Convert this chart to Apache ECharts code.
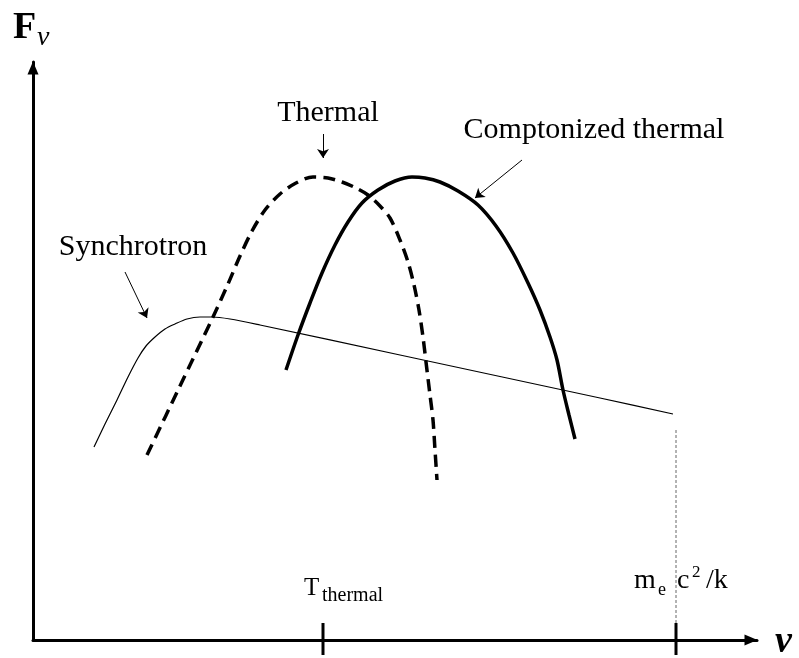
<!DOCTYPE html>
<html>
<head>
<meta charset="utf-8">
<script src="https://cdn.jsdelivr.net/npm/echarts@6/dist/echarts.min.js"></script>
<style>html,body{margin:0;padding:0;background:#fff}#c{width:799px;height:658px}</style>
</head>
<body>
<div id="c"></div>
<script>
// Curves in arbitrary units (x: frequency, y: flux)
const synchrotron = [[61,193],[72,216],[84,240],[95,263],[105,282],[113,294],[122,303],[132,311],[142,316],[154,321],[167,323],[179,323],[197,321],[227,315],[367,285],[567,242],[640,226]];
const thermal = [[114,185],[147,254],[180,323],[195,356],[207,384],[219,409],[232,430],[247,446],[263,457],[280,463],[295,462],[309,458],[323,452],[335,445],[347,434],[357,422],[367,400],[375,378],[381,355],[386,330],[390,303],[393,278],[397,245],[400,220],[402,190],[404,160]];
const comptonized = [[253,270],[265,305],[277,337],[289,367],[302,395],[315,418],[329,437],[345,450],[362,459],[379,463],[392,462],[407,458],[425,449],[445,435],[463,414],[480,387],[495,357],[507,330],[517,303],[524,280],[530,250],[536,225],[542,201]];
// Axis ticks (x units) and their labels
const tickPositions = [290, 643];
const tickLabels = ['T_thermal', 'm_e c^2 /k'];
// Annotation arrows: [from, to]
const arrows = [[[290,506],[290,482]], [[489,480],[442,442]], [[92,368],[114,322]]];
const annotationTexts = ['Thermal', 'Comptonized thermal', 'Synchrotron'];
// cutoff marker at m_e c^2 / k
const cutoffLine = [[643,210],[643,17]];

const chart = echarts.init(document.getElementById('c'), null, {renderer:'canvas'});
const serif = '"Liberation Serif", "Times New Roman", serif';
const txt = (text, x, y, size, opts) => ({
  type:'text', style:{text, x, y, font: (opts && opts.font) || (size + 'px ' + serif), fill:'#000',
    textAlign:(opts && opts.align) || 'left', textVerticalAlign:'middle'}
});
const tickSeries = tickPositions.map(t => ({
  type:'line', data:[[t,17],[t,-15]], clip:false, showSymbol:false, silent:true,
  lineStyle:{color:'#000', width:3}
}));
chart.setOption({
  animation:false,
  backgroundColor:'#fff',
  grid:{left:33, right:42, top:62, bottom:18},
  xAxis:{type:'value', min:0, max:724,
    axisLine:{onZero:false, lineStyle:{color:'#000', width:3}, symbol:['none','triangle'], symbolSize:[11,13], symbolOffset:[0,-6]},
    axisTick:{show:false}, axisLabel:{show:false}, splitLine:{show:false}},
  yAxis:{type:'value', min:0, max:578,
    axisLine:{onZero:false, lineStyle:{color:'#000', width:3}, symbol:['none','triangle'], symbolSize:[11,13], symbolOffset:[0,-6]},
    axisTick:{show:false}, axisLabel:{show:false}, splitLine:{show:false}},
  series:[
    {type:'line', data:synchrotron, smooth:0.3, showSymbol:false, lineStyle:{color:'#000', width:1.2}},
    {type:'line', data:thermal, smooth:0.3, showSymbol:false, lineStyle:{color:'#000', width:3.5, type:[12,7]}},
    {type:'line', data:comptonized, smooth:0.3, showSymbol:false, lineStyle:{color:'#000', width:3.5}},
    {type:'line', data:[], markLine:{silent:true, animation:false, symbol:['none','arrow'], symbolSize:9,
      label:{show:false}, lineStyle:{color:'#000', width:1, type:'solid'},
      data: arrows.map(a => [{coord:a[0]},{coord:a[1]}])}},
    {type:'line', data:cutoffLine, clip:false, showSymbol:false, silent:true,
      lineStyle:{color:'#666', width:1, type:[3,2]}}
  ].concat(tickSeries),
  graphic:[
    txt('F', 13, 28, 38, {font:'bold 38px ' + serif}),
    txt('ν', 37, 38, 28, {font:'italic 28px ' + serif}),
    txt('ν', 775, 642, 38, {font:'bold italic 38px ' + serif}),
    txt(annotationTexts[0], 328, 113, 30, {align:'center'}),
    txt(annotationTexts[1], 594, 130, 30, {align:'center'}),
    txt(annotationTexts[2], 133, 247, 30, {align:'center'}),
    txt('T', 304, 588, 25),
    txt('thermal', 322, 596, 20),
    txt('m', 634, 581, 28),
    txt('e', 658, 590, 18),
    txt('c', 677, 581, 28),
    txt('2', 692, 573, 17),
    txt('/k', 706, 581, 28)
  ]
});
</script>
</body>
</html>
